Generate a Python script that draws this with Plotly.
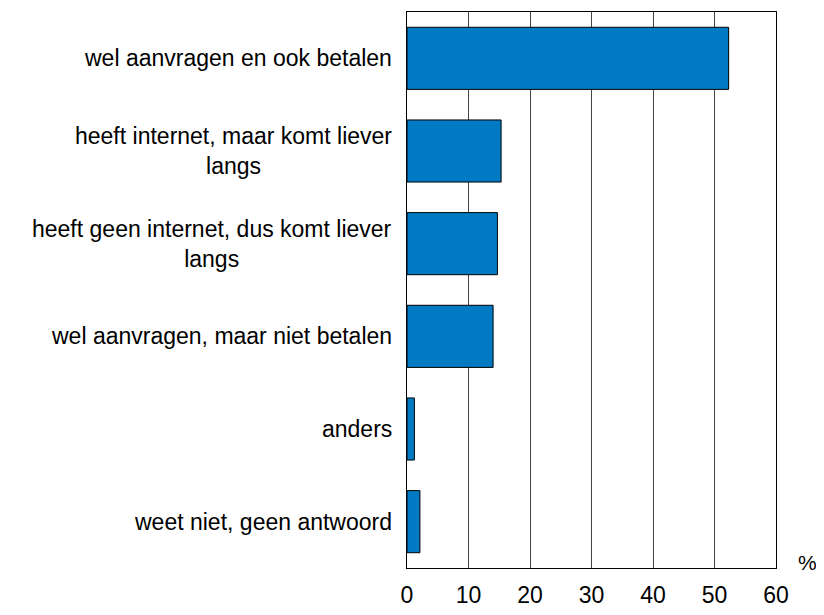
import plotly.graph_objects as go

categories = [
    "wel aanvragen en ook betalen",
    "heeft internet, maar komt liever<br>langs",
    "heeft geen internet, dus komt liever<br>langs",
    "wel aanvragen, maar niet betalen",
    "anders",
    "weet niet, geen antwoord",
]
values = [52.3, 15.3, 14.7, 14.0, 1.2, 2.1]
x_ticks = [0, 10, 20, 30, 40, 50, 60]

font_family = "Liberation Sans, Arial, sans-serif"

fig = go.Figure()
fig.add_bar(
    y=categories,
    x=values,
    orientation="h",
    width=0.67,
    marker=dict(color="#007AC3", line=dict(color="black", width=1)),
    showlegend=False,
)

# category labels as annotations so wrapped lines stay centred
annotations = [
    dict(
        x=0, y=c, xref="paper", yref="y", text=c, showarrow=False,
        xanchor="right", xshift=-13, align="center",
        font=dict(size=23, color="black", family=font_family),
    )
    for c in categories
]
annotations.append(
    dict(
        x=1, y=0, xref="paper", yref="paper", text="%", showarrow=False,
        xanchor="left", yanchor="middle", xshift=20, yshift=6,
        font=dict(size=21, color="black", family=font_family),
    )
)

fig.update_layout(
    width=808,
    height=599,
    margin=dict(l=399, r=40, t=4, b=39),
    plot_bgcolor="white",
    paper_bgcolor="white",
    font=dict(family=font_family, size=22, color="black"),
    annotations=annotations,
)
fig.update_xaxes(
    range=[0, 60],
    tickvals=x_ticks,
    showgrid=True,
    gridcolor="#444444",
    gridwidth=1,
    showline=True,
    linecolor="black",
    linewidth=1,
    mirror=True,
    ticks="outside",
    ticklen=6,
    tickcolor="rgba(0,0,0,0)",
    tickfont=dict(size=23),
    zeroline=False,
    automargin=False,
    fixedrange=True,
)
fig.update_yaxes(
    categoryorder="array",
    categoryarray=categories[::-1],
    showticklabels=False,
    showline=True,
    linecolor="black",
    linewidth=1,
    mirror=True,
    showgrid=False,
    automargin=False,
    fixedrange=True,
)

fig.write_html("out.html")
